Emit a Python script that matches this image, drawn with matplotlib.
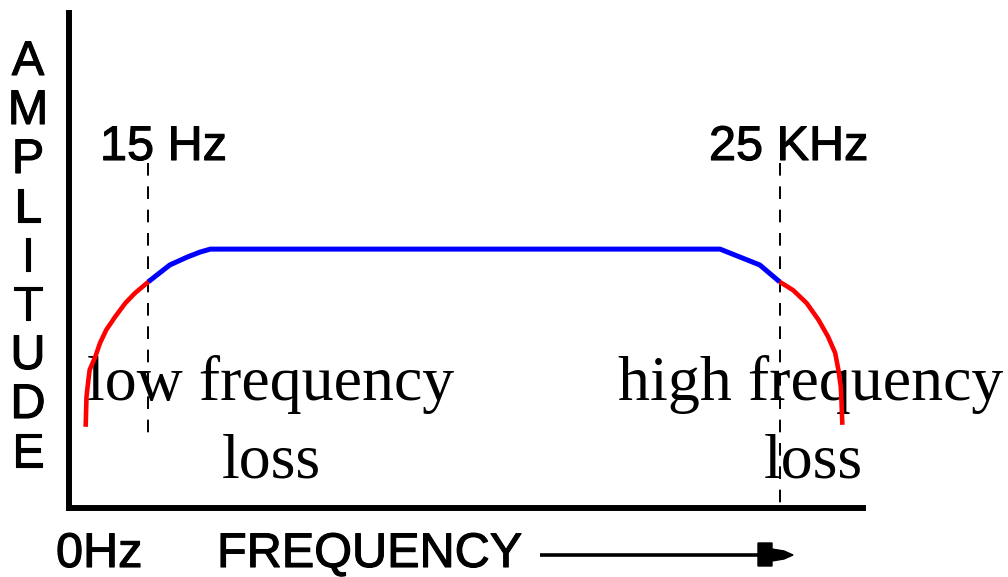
import matplotlib
matplotlib.use("Agg")
import matplotlib.pyplot as plt
import matplotlib.patheffects as pe
from matplotlib.patches import Polygon

# response curve, in percent of the axis extent
low_x = [2.1, 2.2, 2.4, 2.6, 3.3, 3.9, 4.7, 5.8, 7.1, 8.3, 10.0]
low_y = [16.4, 22.4, 25.3, 27.9, 30.5, 33.3, 36.0, 38.6, 41.4, 43.4, 45.7]
pass_x = [10.0, 11.1, 12.7, 14.9, 16.5, 17.8, 82.0, 84.5, 87.0, 89.5]
pass_y = [45.7, 47.1, 49.1, 50.7, 51.7, 52.3, 52.3, 50.7, 49.1, 45.7]
high_x = [89.5, 91.2, 92.9, 94.4, 95.6, 96.5, 96.9, 97.2, 97.3, 97.4]
high_y = [45.7, 44.0, 41.4, 38.0, 34.6, 31.3, 27.9, 24.5, 21.2, 16.8]

# cutoff markers: (x, top, bottom)
cutoffs = [(10.0, 69.7, 13.1), (89.5, 69.7, 0.0)]
cutoff_labels = ["15 Hz", "25 KHz"]

W, H = 1008, 577
fig = plt.figure(figsize=(W / 100, H / 100), dpi=100)

# overlay in pixel units for the labels and the arrow
deco = fig.add_axes([0, 0, 1, 1])
deco.set_xlim(0, W)
deco.set_ylim(H, 0)
deco.axis("off")

# the plot axes themselves
x0, x1, ytop, ybot = 69, 863, 13, 508
ax = fig.add_axes([x0 / W, (H - ybot) / H, (x1 - x0) / W, (ybot - ytop) / H])
ax.patch.set_alpha(0)
ax.set_xlim(0, 100)
ax.set_ylim(0, 100)
ax.set_xticks([])
ax.set_yticks([])
for side in ["top", "right"]:
    ax.spines[side].set_visible(False)
for side in ["left", "bottom"]:
    ax.spines[side].set_linewidth(4.3)
    ax.spines[side].set_color("black")

for cx, top, bot in cutoffs:
    ax.plot([cx, cx], [top, bot], color="black", lw=1.4,
            dashes=(6.5, 5.5), solid_capstyle="butt")

ax.plot(pass_x, pass_y, color="#0000ff", lw=3.6, solid_capstyle="butt")
ax.plot(low_x, low_y, color="#ff0000", lw=3.3, solid_capstyle="butt")
ax.plot(high_x, high_y, color="#ff0000", lw=3.3, solid_capstyle="butt")

sans = dict(family="Liberation Sans", fontsize=35, va="baseline",
            path_effects=[pe.withStroke(linewidth=0.8, foreground="black")])
serif = dict(family="Liberation Serif", fontsize=46, ha="center", va="baseline")

# vertical axis title, one letter per row
for i, ch in enumerate("AMPLITUDE"):
    deco.text(28, 75 + 49 * i, ch, ha="center", **sans)

deco.text(100, 160, cutoff_labels[0], **sans)
deco.text(709, 160, cutoff_labels[1], **sans)
deco.text(56, 567, "0Hz", **sans)
deco.text(217, 567, "FREQUENCY", **sans)

# frequency arrow
deco.plot([540, 760], [555, 555], color="black", lw=2.6, solid_capstyle="butt")
deco.add_patch(Polygon([(758, 543), (772, 543), (772, 549), (784, 551),
                        (793, 555), (784, 559), (772, 561), (772, 566),
                        (758, 566)], closed=True, color="black"))

deco.text(271, 400, "low frequency", **serif)
deco.text(271, 477, "loss", **serif)
deco.text(811, 400, "high frequency", **serif)
deco.text(813, 477, "loss", **serif)

fig.savefig("out.png", dpi=100)
